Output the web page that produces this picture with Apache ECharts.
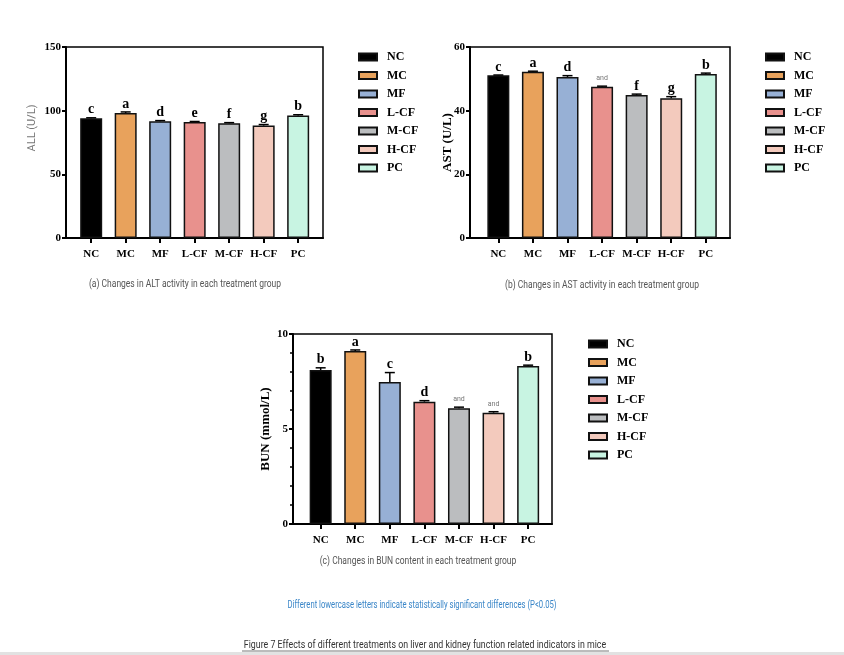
<!DOCTYPE html>
<html>
<head>
<meta charset="utf-8">
<script src="https://cdn.jsdelivr.net/npm/echarts@6/dist/echarts.min.js"></script>
<style>
html,body{margin:0;padding:0;background:#fff;}
#chart{width:844px;height:655px;}
</style>
</head>
<body>
<div id="chart"></div>
<script>
// ---- data ----
const categories = ['NC', 'MC', 'MF', 'L-CF', 'M-CF', 'H-CF', 'PC'];
const barColors = ['#000000', '#E8A25C', '#97B0D5', '#E8918D', '#BBBDBF', '#F3CABD', '#C8F4E2'];

const altValues = [94.0, 98.2, 91.7, 91.1, 90.2, 88.3, 96.2];
const altErrors = [0.4, 0.8, 0.5, 0.4, 0.4, 0.8, 0.6];
const altLetters = ['c', 'a', 'd', 'e', 'f', 'g', 'b'];

const astValues = [51.1, 52.2, 50.6, 47.5, 44.9, 43.9, 51.5];
const astErrors = [0.1, 0.2, 0.4, 0.2, 0.3, 0.5, 0.3];
const astLetters = ['c', 'a', 'd', 'and', 'f', 'g', 'b'];

const bunValues = [8.10, 9.10, 7.47, 6.44, 6.09, 5.86, 8.32];
const bunErrors = [0.12, 0.06, 0.50, 0.05, 0.06, 0.05, 0.04];
const bunLetters = ['b', 'a', 'c', 'd', 'and', 'and', 'b'];

const altTicks = [0, 50, 100, 150];
const astTicks = [0, 20, 40, 60];
const bunTicks = [0, 5, 10];

// ---- layout / style ----
const SERIF = '"Liberation Serif", "Times New Roman", serif';
const SANS = 'Roboto, "Noto Sans", sans-serif';

const panels = [
  {values: altValues, errors: altErrors, letters: altLetters, ticks: altTicks,
   grid: {left: 66, right: 521, top: 47, bottom: 417}, xmin: -0.73, xmax: 6.72,
   yName: '', nameGap: 20, legend: {left: 353, top: 45}, minor: false},
  {values: astValues, errors: astErrors, letters: astLetters, ticks: astTicks,
   grid: {left: 470, right: 114, top: 47, bottom: 417}, xmin: -0.82, xmax: 6.70,
   yName: 'AST (U/L)', nameGap: 16, legend: {left: 760, top: 45}, minor: false},
  {values: bunValues, errors: bunErrors, letters: bunLetters, ticks: bunTicks,
   grid: {left: 293, right: 292, top: 334, bottom: 131}, xmin: -0.80, xmax: 6.69,
   yName: 'BUN (mmol/L)', nameGap: 21, legend: {left: 583, top: 332}, minor: true}
];

const grids = [], xAxes = [], yAxes = [], legends = [], series = [];
const idx7 = categories.map((c, i) => i);

panels.forEach((p, k) => {
  grids.push(Object.assign({show: true, borderColor: '#000', borderWidth: 1.5, backgroundColor: 'transparent'}, p.grid));
  xAxes.push({
    gridIndex: k, type: 'value', min: p.xmin, max: p.xmax,
    splitLine: {show: false},
    axisLine: {show: true, onZero: false, lineStyle: {color: '#000', width: 2}},
    axisTick: {show: true, customValues: idx7, length: 5, lineStyle: {color: '#000', width: 2}},
    axisLabel: {show: true, customValues: idx7, formatter: v => categories[Math.round(v)],
      fontFamily: SERIF, fontWeight: 'bold', fontSize: 11, color: '#000', margin: 11}
  });
  const maxV = p.ticks[p.ticks.length - 1];
  yAxes.push({
    gridIndex: k, type: 'value', min: 0, max: maxV, interval: p.ticks[1] - p.ticks[0],
    splitLine: {show: false},
    axisLine: {show: true, onZero: false, lineStyle: {color: '#000', width: 2}},
    axisTick: {show: true, length: 4, lineStyle: {color: '#000', width: 2}},
    minorTick: {show: p.minor, splitNumber: 5, length: 3, lineStyle: {color: '#000', width: 1.5}},
    axisLabel: {fontFamily: SERIF, fontWeight: 'bold', fontSize: 11, color: '#000', margin: 5},
    name: p.yName, nameLocation: 'middle', nameGap: p.nameGap, nameMoveOverlap: false,
    nameTextStyle: {fontFamily: SERIF, fontWeight: 'bold', fontSize: 13, color: '#000'}
  });
  legends.push({
    left: p.legend.left, top: p.legend.top, orient: 'vertical',
    data: categories.map(c => c + '#' + k),
    formatter: n => n.split('#')[0],
    icon: 'rect', itemWidth: 18, itemHeight: 7, itemGap: 4.5,
    selectedMode: false,
    textStyle: {fontFamily: SERIF, fontWeight: 'bold', fontSize: 12, color: '#000', lineHeight: 14, padding: [0, 0, 0, 5]}
  });
  categories.forEach((c, i) => {
    series.push({
      type: 'bar', name: c + '#' + k, xAxisIndex: k, yAxisIndex: k,
      barWidth: 22, barGap: '-100%',
      itemStyle: {color: barColors[i], borderColor: '#111', borderWidth: 1.5},
      data: [[i, p.values[i]]],
      silent: true, animation: false
    });
  });
  series.push({
    type: 'custom', xAxisIndex: k, yAxisIndex: k, z: 5, silent: true, animation: false,
    data: p.values.map((v, i) => [i, v, p.errors[i]]),
    renderItem: (params, api) => {
      const i = api.value(0), v = api.value(1), e = api.value(2);
      const base = api.coord([i, v]);
      const top = api.coord([i, v + e]);
      const lt = p.letters[params.dataIndex];
      const isAnd = lt === 'and';
      return {type: 'group', children: [
        {type: 'line', shape: {x1: top[0], y1: base[1], x2: top[0], y2: top[1]}, style: {stroke: '#000', lineWidth: 1.5}},
        {type: 'line', shape: {x1: top[0] - 5, y1: top[1], x2: top[0] + 5, y2: top[1]}, style: {stroke: '#000', lineWidth: 1.5}},
        {type: 'text', style: {text: lt, x: top[0], y: top[1] - (isAnd ? 4 : 1), align: 'center', verticalAlign: 'bottom',
          fontFamily: isAnd ? SANS : SERIF, fontWeight: isAnd ? 'normal' : 'bold',
          fontSize: isAnd ? 7 : 14, fill: isAnd ? '#777' : '#000'}}
      ]};
    }
  });
});

function caption(text, x, y, size, color, sx) {
  return {type: 'text', x: x, y: y, scaleX: sx, style: {text: text, x: 0, y: 0, align: 'center', verticalAlign: 'middle',
    fontFamily: SANS, fontSize: size, fill: color}};
}

const chart = echarts.init(document.getElementById('chart'), null, {renderer: 'canvas'});
chart.setOption({
  animation: false,
  backgroundColor: '#fff',
  grid: grids, xAxis: xAxes, yAxis: yAxes, legend: legends, series: series,
  graphic: [
    {type: 'text', x: 32, y: 128, rotation: Math.PI / 2, style: {text: 'ALL (U/L)', x: 0, y: 0, align: 'center', verticalAlign: 'middle',
      fontFamily: SANS, fontSize: 11, fill: '#777'}},
    caption('(a) Changes in ALT activity in each treatment group', 185, 284, 10, '#555', 0.85),
    caption('(b) Changes in AST activity in each treatment group', 602, 285, 10, '#555', 0.85),
    caption('(c) Changes in BUN content in each treatment group', 418, 561, 10, '#555', 0.85),
    caption('Different lowercase letters indicate statistically significant differences (P<0.05)', 422, 605, 10, '#3A86C8', 0.77),
    caption('Figure 7 Effects of different treatments on liver and kidney function related indicators in mice', 425, 645, 10.5, '#333', 0.84),
    {type: 'line', shape: {x1: 242, y1: 651, x2: 609, y2: 651}, style: {stroke: '#555', lineWidth: 0.8}},
    {type: 'rect', shape: {x: 0, y: 652, width: 844, height: 3}, style: {fill: '#E2E2E2'}}
  ]
});
</script>
</body>
</html>
